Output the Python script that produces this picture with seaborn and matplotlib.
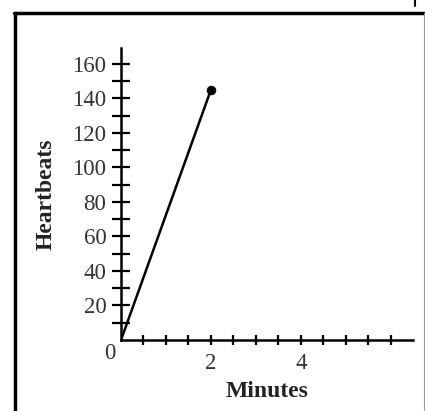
import matplotlib
matplotlib.use("Agg")
import matplotlib.pyplot as plt
import seaborn as sns
import numpy as np
import pandas as pd
from matplotlib.lines import Line2D

# data
minutes = [0, 2]
heartbeats = [0, 145]
x_labels = {2: "2", 4: "4"}
y_labels = {20: "20", 40: "40", 60: "60", 80: "80", 100: "100", 120: "120", 140: "140", 160: "160"}

sns.set_style("ticks")
plt.rcParams["font.family"] = ["Liberation Serif", "DejaVu Serif"]

df = pd.DataFrame({"Minutes": minutes, "Heartbeats": heartbeats})

fig = plt.figure(figsize=(4.25, 4.11), dpi=100)
ax = fig.add_axes([0.2847, 0.1727, 0.688, 0.710])

sns.lineplot(data=df, x="Minutes", y="Heartbeats", ax=ax, color="black", linewidth=1.8)
sns.scatterplot(data=df.iloc[[-1]], x="Minutes", y="Heartbeats", ax=ax,
                color="black", s=40, edgecolor="black", zorder=5)

ax.set_xlim(0, 6.5)
ax.set_ylim(0, 169)

xt = np.arange(0.5, 6.01, 0.5)
ax.set_xticks(xt)
ax.set_xticklabels([x_labels.get(int(v), "") if float(v).is_integer() else "" for v in xt])
yt = np.arange(10, 161, 10)
ax.set_yticks(yt)
ax.set_yticklabels([y_labels.get(int(v), "") for v in yt])

ax.tick_params(axis="x", direction="inout", length=7, width=1.6, labelsize=16.5, pad=6,
               color="black", labelcolor="#333333")
ax.tick_params(axis="y", direction="inout", length=13, width=1.6, labelsize=16.5, pad=4,
               color="black", labelcolor="#333333")

for side in ["top", "right"]:
    ax.spines[side].set_visible(False)
for side in ["left", "bottom"]:
    ax.spines[side].set_linewidth(1.8)
    ax.spines[side].set_color("black")

ax.text(-0.12, -2, "0", ha="right", va="top", fontsize=16.5, color="#333333",
        transform=ax.transData, clip_on=False)

ax.set_xlabel("Minutes", fontsize=17, fontweight="bold", labelpad=5, color="#222222")
ax.set_ylabel("Heartbeats", fontsize=17, fontweight="bold", labelpad=11, color="#222222")

# outer frame
W, H = 425, 411
def px(x, y):
    return x / W, 1 - y / H
fig.add_artist(Line2D([px(15, 0)[0], px(15, 0)[0]], [px(0, 13)[1], 0], color="black", linewidth=2.5))
fig.add_artist(Line2D([px(14, 0)[0], px(424, 0)[0]], [px(0, 13)[1], px(0, 13)[1]], color="black", linewidth=2.5))
fig.add_artist(Line2D([px(424, 0)[0], px(424, 0)[0]], [px(0, 13)[1], 0], color="#999999", linewidth=0.8))
fig.add_artist(Line2D([px(415, 0)[0], px(415, 0)[0]], [px(0, 6)[1], 1], color="black", linewidth=1.5))

fig.savefig("out.png", dpi=100, facecolor="white")
